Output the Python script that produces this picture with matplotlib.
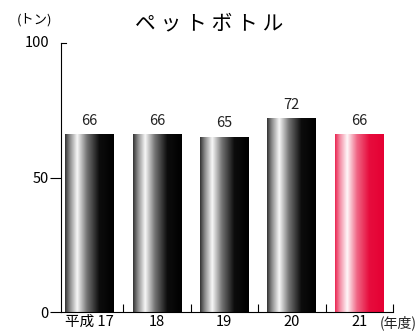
import numpy as np
import matplotlib.pyplot as plt
from matplotlib.colors import LinearSegmentedColormap

plt.rcParams['font.family'] = ['Noto Sans CJK JP', 'DejaVu Sans']

# data
years = ['平成 17', '18', '19', '20', '21']
values = [66, 66, 65, 72, 66]
highlight = [False, False, False, False, True]

# gradient profiles across the bar width (0 = base colour, 1 = white)
stops = [0.0, 0.1, 0.25, 0.45, 0.7, 1.0]
black_shine = [0.2, 0.55, 0.97, 0.45, 0.05, 0.0]
red_shine = [0.15, 0.55, 0.97, 0.4, 0.05, 0.0]

def shine_cmap(base, shine, name):
    base = np.array(base)
    cols = [tuple(base + (1 - base) * s) for s in shine]
    return LinearSegmentedColormap.from_list(name, list(zip(stops, cols)))

cm_black = shine_cmap((0, 0, 0), black_shine, 'blk')
cm_red = shine_cmap((0.9, 0.0, 0.2), red_shine, 'red')

fig = plt.figure(figsize=(4.18, 3.31), dpi=100)
ax = fig.add_axes([61/418, 1 - 312/331, (393 - 61)/418, (312 - 43)/331])

x = np.arange(len(values))
bars = ax.bar(x, values, width=0.72, color='none', edgecolor='none')
grad = np.linspace(0, 1, 256).reshape(1, -1)
for b, hl, v in zip(bars, highlight, values):
    x0, w, h = b.get_x(), b.get_width(), b.get_height()
    im = ax.imshow(grad, cmap=cm_red if hl else cm_black, aspect='auto',
                   extent=(x0, x0 + w, 0, h), zorder=2)
    im.set_clip_path(b)
    ax.text(x0 + w / 2, h + 2.5, str(v), ha='center', va='bottom', fontsize=10.5,
            color='#222222')

ax.set_xlim(-0.42, 4.46)
ax.set_ylim(0, 100)

for s in ['top', 'right']:
    ax.spines[s].set_visible(False)
for s in ['left', 'bottom']:
    ax.spines[s].set_linewidth(0.8)

ax.set_yticks([0, 50])
ax.tick_params(axis='y', direction='out', length=8, width=0.8, labelsize=10.5, pad=1)
# top of the scale: label with a short inward tick
ax.plot([0, 0.016], [1, 1], transform=ax.transAxes, color='black', lw=0.8,
        clip_on=False)
ax.text(-0.035, 1, '100', transform=ax.transAxes, ha='right', va='center',
        fontsize=10.5)

ax.set_xticks(x)
ax.set_xticklabels(years)
ax.tick_params(axis='x', which='major', length=0, labelsize=10.5, pad=2)
ax.set_xticks(np.arange(len(values)) + 0.5, minor=True)
ax.tick_params(axis='x', which='minor', direction='in', length=6, width=0.8)

ax.text(0.96, -0.012, '(年度)', transform=ax.transAxes, ha='left', va='top',
        fontsize=10, color='#222222')
fig.text(34/418, 1 - 20/331, '(トン)', ha='center', va='center', fontsize=9.5)
fig.text(209/418, 1 - 23/331, 'ペ ッ ト ボ ト ル', ha='center', va='center',
         fontsize=15)

fig.savefig('out.png', dpi=100)
